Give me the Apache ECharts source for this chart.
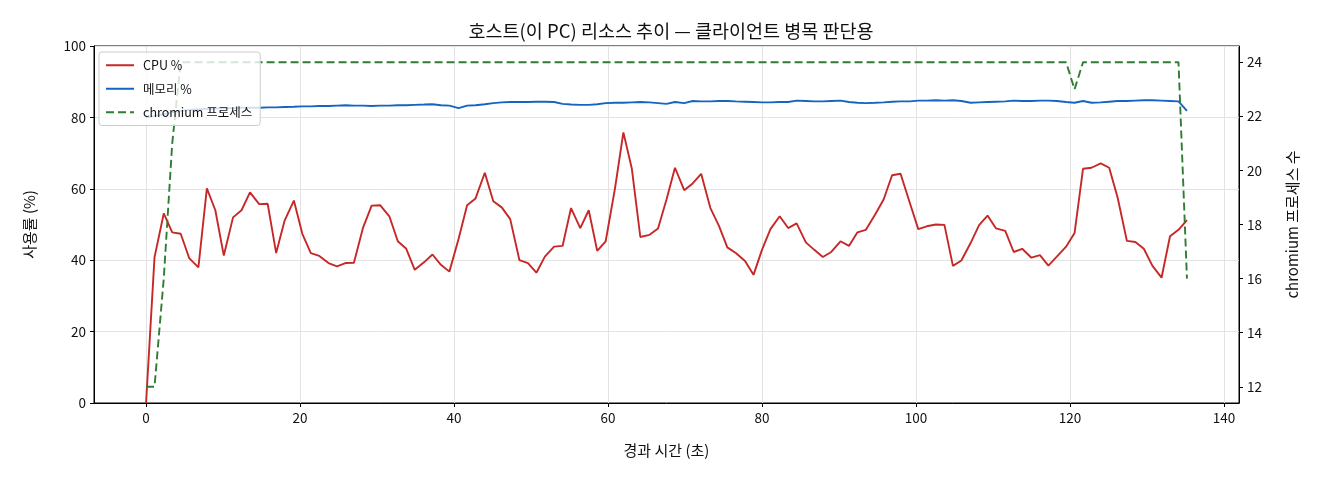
<!DOCTYPE html>
<html>
<head>
<meta charset="utf-8">
<title>호스트 리소스 추이</title>
<script src="https://cdn.jsdelivr.net/npm/echarts@6/dist/echarts.min.js"></script>
<style>
  html, body { margin: 0; padding: 0; background: #fff; }
  #chart { width: 1320px; height: 480px; }
</style>
</head>
<body>
<div id="chart"></div>
<script>
// elapsed time (s) of each sample
var times = [
  0, 1.1, 2.3, 3.4, 4.5, 5.6, 6.8, 7.9, 9.0, 10.1,
  11.3, 12.4, 13.5, 14.7, 15.8, 16.9, 18.0, 19.2, 20.3, 21.4,
  22.5, 23.7, 24.8, 25.9, 27.0, 28.2, 29.3, 30.4, 31.6, 32.7,
  33.8, 34.9, 36.1, 37.2, 38.3, 39.4, 40.6, 41.7, 42.8, 44.0,
  45.1, 46.2, 47.3, 48.5, 49.6, 50.7, 51.8, 53.0, 54.1, 55.2,
  56.4, 57.5, 58.6, 59.7, 60.9, 62.0, 63.1, 64.2, 65.4, 66.5,
  67.6, 68.7, 69.9, 71.0, 72.1, 73.3, 74.4, 75.5, 76.6, 77.8,
  78.9, 80.0, 81.1, 82.3, 83.4, 84.5, 85.7, 86.8, 87.9, 89.0,
  90.2, 91.3, 92.4, 93.5, 94.7, 95.8, 96.9, 98.0, 99.2, 100.3,
  101.4, 102.6, 103.7, 104.8, 105.9, 107.1, 108.2, 109.3, 110.4, 111.6,
  112.7, 113.8, 115.0, 116.1, 117.2, 118.3, 119.5, 120.6, 121.7, 122.8,
  124.0, 125.1, 126.2, 127.4, 128.5, 129.6, 130.7, 131.9, 133.0, 134.1,
  135.2
];

// CPU usage %
var cpuPct = [
  0, 40.8, 53.1, 47.8, 47.4, 40.6, 38.0, 60.1, 54.0, 41.3,
  52.0, 54.0, 59.0, 55.7, 55.8, 42.0, 51.1, 56.7, 47.4, 42.0,
  41.2, 39.2, 38.3, 39.2, 39.3, 49.2, 55.3, 55.4, 52.3, 45.3,
  43.2, 37.3, 39.4, 41.6, 38.7, 36.8, 46.0, 55.4, 57.3, 64.5,
  56.5, 54.8, 51.5, 40.0, 39.2, 36.5, 41.0, 43.8, 44.0, 54.6,
  49.0, 54.0, 42.6, 45.3, 60.0, 75.8, 65.6, 46.5, 47.1, 48.9,
  57.0, 65.9, 59.6, 61.5, 64.2, 54.6, 49.7, 43.6, 42.0, 39.8,
  35.9, 42.9, 48.7, 52.3, 49.0, 50.3, 45.0, 42.9, 40.9, 42.3,
  45.3, 44.0, 47.8, 48.5, 52.8, 57.0, 63.8, 64.2, 56.1, 48.7,
  49.5, 50.0, 49.9, 38.4, 39.9, 44.8, 49.8, 52.5, 48.9, 48.2,
  42.3, 43.2, 40.7, 41.4, 38.5, 41.0, 43.8, 47.6, 65.6, 65.9,
  67.1, 65.9, 57.5, 45.4, 45.1, 43.2, 38.5, 35.1, 46.7, 48.5,
  51.2
];

// memory usage %
var memPct = [
  80.0, 80.4, 80.9, 81.4, 81.8, 82.1, 82.3, 82.4, 82.5, 82.6,
  82.6, 82.7, 82.7, 82.7, 82.8, 82.8, 82.9, 83.0, 83.1, 83.1,
  83.2, 83.2, 83.3, 83.4, 83.3, 83.3, 83.2, 83.3, 83.3, 83.4,
  83.4, 83.5, 83.6, 83.7, 83.4, 83.3, 82.6, 83.3, 83.4, 83.7,
  84.0, 84.2, 84.3, 84.3, 84.3, 84.4, 84.4, 84.3, 83.8, 83.6,
  83.5, 83.5, 83.7, 84.0, 84.1, 84.1, 84.2, 84.3, 84.2, 84.0,
  83.8, 84.3, 84.0, 84.6, 84.5, 84.5, 84.6, 84.6, 84.5, 84.4,
  84.3, 84.2, 84.2, 84.3, 84.3, 84.7, 84.6, 84.5, 84.5, 84.6,
  84.7, 84.3, 84.1, 84.0, 84.1, 84.2, 84.4, 84.5, 84.5, 84.7,
  84.7, 84.8, 84.7, 84.8, 84.6, 84.1, 84.2, 84.3, 84.4, 84.5,
  84.7, 84.6, 84.6, 84.7, 84.7, 84.6, 84.3, 84.1, 84.6, 84.1,
  84.2, 84.4, 84.6, 84.6, 84.7, 84.8, 84.8, 84.7, 84.6, 84.5,
  81.8
];

// number of chromium processes
var procCount = [
  12, 12, 16, 21, 24, 24, 24, 24, 24, 24,
  24, 24, 24, 24, 24, 24, 24, 24, 24, 24,
  24, 24, 24, 24, 24, 24, 24, 24, 24, 24,
  24, 24, 24, 24, 24, 24, 24, 24, 24, 24,
  24, 24, 24, 24, 24, 24, 24, 24, 24, 24,
  24, 24, 24, 24, 24, 24, 24, 24, 24, 24,
  24, 24, 24, 24, 24, 24, 24, 24, 24, 24,
  24, 24, 24, 24, 24, 24, 24, 24, 24, 24,
  24, 24, 24, 24, 24, 24, 24, 24, 24, 24,
  24, 24, 24, 24, 24, 24, 24, 24, 24, 24,
  24, 24, 24, 24, 24, 24, 24, 23, 24, 24,
  24, 24, 24, 24, 24, 24, 24, 24, 24, 24,
  16
];

var xTicks = [0, 20, 40, 60, 80, 100, 120, 140];
var procTicks = [12, 14, 16, 18, 20, 22, 24];

var FONT = '"Noto Sans CJK KR", "Noto Sans", sans-serif';

function pairs(ys) {
  return times.map(function (t, i) { return [t, ys[i]]; });
}

var chart = echarts.init(document.getElementById('chart'), null, { renderer: 'canvas' });

var gridLine = { show: true, lineStyle: { color: '#e3e3e3', width: 1 } };
var tickStyle = { show: true, inside: false, length: 4, lineStyle: { color: '#000', width: 1 } };
var spine = { show: true, onZero: false, lineStyle: { color: '#000', width: 1 } };

option = {
  animation: false,
  backgroundColor: '#fff',
  textStyle: { fontFamily: FONT },
  title: {
    text: '호스트(이 PC) 리소스 추이 — 클라이언트 병목 판단용',
    left: 666,
    top: 17,
    textAlign: 'center',
    textStyle: { fontFamily: FONT, fontSize: 18.5, fontWeight: 'normal', color: '#111' }
  },
  legend: {
    orient: 'vertical',
    left: 99,
    top: 52,
    padding: [7, 8, 7, 6],
    itemWidth: 28,
    itemHeight: 10,
    itemGap: 11,
    backgroundColor: 'rgba(255,255,255,0.8)',
    borderColor: '#cccccc',
    borderWidth: 1,
    borderRadius: 3,
    itemStyle: { opacity: 0 },
    textStyle: { fontFamily: FONT, fontSize: 12.5, color: '#111', padding: [0, 0, 0, 4] },
    data: ['CPU %', '메모리 %', 'chromium 프로세스']
  },
  grid: {
    left: 94, right: 81, top: 46, bottom: 77,
    show: true, borderColor: '#000', borderWidth: 1
  },
  xAxis: {
    type: 'value',
    min: -6.76,
    max: 141.96,
    name: '경과 시간 (초)',
    nameLocation: 'middle',
    nameGap: 40,
    nameTextStyle: { fontFamily: FONT, fontSize: 15, color: '#111' },
    axisLine: spine,
    axisTick: Object.assign({ customValues: xTicks }, tickStyle),
    axisLabel: { customValues: xTicks, fontFamily: FONT, fontSize: 13.5, color: '#111', margin: 8 },
    splitLine: gridLine
  },
  yAxis: [
    {
      type: 'value',
      min: 0,
      max: 100,
      interval: 20,
      name: '사용률 (%)',
      nameLocation: 'middle',
      nameGap: 57,
      nameTextStyle: { fontFamily: FONT, fontSize: 15, color: '#111' },
      axisLine: spine,
      axisTick: tickStyle,
      axisLabel: { fontFamily: FONT, fontSize: 13.5, color: '#111', margin: 8 },
      splitLine: gridLine
    },
    {
      type: 'value',
      position: 'right',
      min: 11.4,
      max: 24.6,
      name: 'chromium 프로세스 수',
      nameLocation: 'middle',
      nameGap: 46,
      nameTextStyle: { fontFamily: FONT, fontSize: 15, color: '#111' },
      axisLine: spine,
      axisTick: Object.assign({ customValues: procTicks }, tickStyle),
      axisLabel: { customValues: procTicks, fontFamily: FONT, fontSize: 13.5, color: '#111', margin: 8 },
      splitLine: { show: false }
    }
  ],
  series: [
    {
      name: 'CPU %',
      type: 'line',
      yAxisIndex: 0,
      symbol: 'none',
      data: pairs(cpuPct),
      itemStyle: { color: '#c62828' },
      lineStyle: { color: '#c62828', width: 1.9 },
      z: 3
    },
    {
      name: '메모리 %',
      type: 'line',
      yAxisIndex: 0,
      symbol: 'none',
      data: pairs(memPct),
      itemStyle: { color: '#1565c0' },
      lineStyle: { color: '#1565c0', width: 1.9 },
      z: 3
    },
    {
      name: 'chromium 프로세스',
      type: 'line',
      yAxisIndex: 1,
      symbol: 'none',
      data: pairs(procCount),
      itemStyle: { color: '#2e7d32' },
      lineStyle: { color: '#2e7d32', width: 1.9, type: [8, 4] },
      z: 3
    }
  ]
};

chart.setOption(option);
</script>
</body>
</html>
